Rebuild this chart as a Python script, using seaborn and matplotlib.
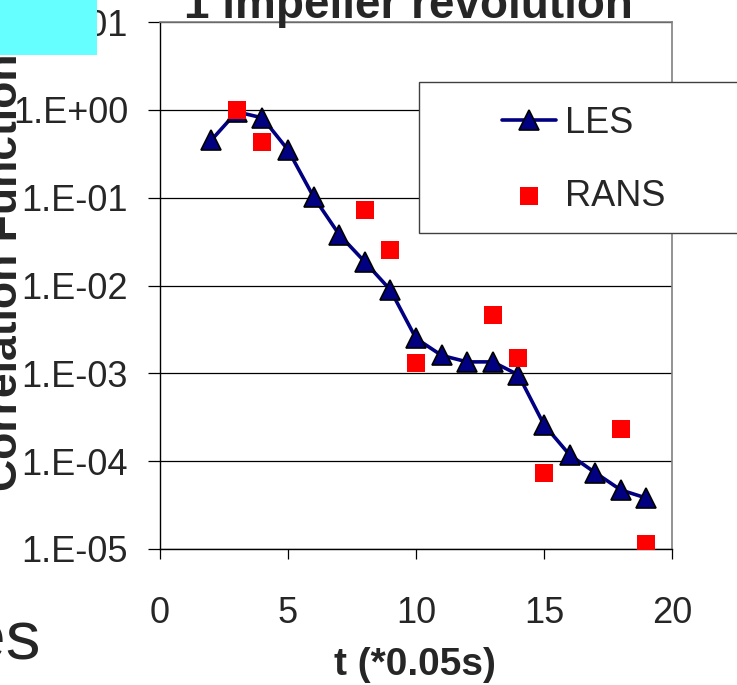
import numpy as np
import matplotlib
matplotlib.use("Agg")
import matplotlib.pyplot as plt
import matplotlib.ticker as mticker
from matplotlib.patches import Rectangle
import seaborn as sns

# Correlation function decay over one impeller revolution
t_les = [2, 3, 4, 5, 6, 7, 8, 9, 10, 11, 12, 13, 14, 15, 16, 17, 18, 19]
les = [0.45, 0.95, 0.81, 0.35, 0.102, 0.038, 0.0186, 0.0089, 0.0025, 0.0016,
       0.00135, 0.00135, 0.00096, 0.00026, 0.000118, 0.000074, 0.000047, 0.000038]

t_rans = [3, 4, 8, 9, 10, 13, 14, 15, 18, 19]
rans = [1.0, 0.43, 0.073, 0.0255, 0.00132, 0.0046, 0.0015, 0.000074, 0.00023, 0.0000115]

x_ticks = [0, 5, 10, 15, 20]
y_decades = [-5, -4, -3, -2, -1, 0, 1]

title_text = "1 impeller revolution"
x_label = "t (*0.05s)"
y_label = "Correlation Function"
series_names = ["LES", "RANS"]

sns.set_style("white")
plt.rcParams["font.family"] = ["Liberation Sans", "DejaVu Sans"]

W, H = 737, 685
fig = plt.figure(figsize=(W / 100, H / 100), dpi=100)
ax = fig.add_axes([160 / W, 1 - 549 / H, (672 - 160) / W, (549 - 22) / H])

navy = "#000080"
sns.lineplot(x=t_les, y=les, ax=ax, color=navy, lw=2.6, marker="^",
             markersize=14, markerfacecolor=navy, markeredgecolor="black",
             markeredgewidth=1.2, label=series_names[0], zorder=3)
sns.scatterplot(x=t_rans, y=rans, ax=ax, color="#ff0000", marker="s", s=160,
                linewidth=0, label=series_names[1], zorder=4)

ax.set_yscale("log")
ax.set_ylim(10.0 ** y_decades[0], 10.0 ** y_decades[-1])
ax.set_xlim(x_ticks[0], x_ticks[-1])
ax.set_xticks(x_ticks)
ax.set_yticks([10.0 ** d for d in y_decades])
ax.yaxis.set_minor_locator(mticker.NullLocator())
ax.yaxis.set_major_formatter(
    mticker.FuncFormatter(lambda v, p: "1.E{:+03d}".format(int(round(np.log10(v))))))

ax.yaxis.grid(True, color="black", lw=0.9)
ax.xaxis.grid(False)
ax.set_xlabel("")
ax.set_ylabel("")

for side in ("left", "bottom"):
    ax.spines[side].set_color("black")
    ax.spines[side].set_linewidth(1.0)
for side in ("top", "right"):
    ax.spines[side].set_color("#808080")
    ax.spines[side].set_linewidth(1.2)

ax.tick_params(axis="y", direction="out", length=9, width=0.9, color="black",
               pad=14, labelsize=26, left=True)
ax.tick_params(axis="x", direction="out", length=7, width=0.9, color="black",
               pad=27, labelsize=26, bottom=True)

# Legend box (extends past the right edge) and its entries on top of it
ax.add_patch(Rectangle((419 / W, 1 - 233 / H), (800 - 419) / W, (233 - 82) / H,
                       transform=fig.transFigure, facecolor="white",
                       edgecolor="#404040", lw=1.0, zorder=4.5, clip_on=False))
leg = ax.legend(loc="upper left", bbox_to_anchor=(502 / W, 1 - 106 / H),
                bbox_transform=fig.transFigure, frameon=False, fontsize=26,
                handlelength=1.5, handletextpad=0.25, labelspacing=1.05,
                borderpad=0, borderaxespad=0)
leg.set_zorder(6)

fig.text(408 / W, 1 - 18 / H, title_text, ha="center", va="baseline",
         fontsize=33, fontweight="bold")
fig.text(415 / W, 1 - 675 / H, x_label, ha="center", va="baseline",
         fontsize=28, fontweight="bold")
fig.text(17 / W, 1 - 272 / H, y_label, rotation=90, rotation_mode="anchor",
         ha="center", va="baseline", fontsize=32, fontweight="bold")
fig.text(41 / W, 1 - 660 / H, "es", ha="right", va="baseline", fontsize=50)

fig.patches.append(Rectangle((0, 1 - 55 / H), 97 / W, 55 / H,
                             transform=fig.transFigure, facecolor="#66ffff",
                             edgecolor="none", zorder=10))

fig.savefig("out.png", dpi=100)
